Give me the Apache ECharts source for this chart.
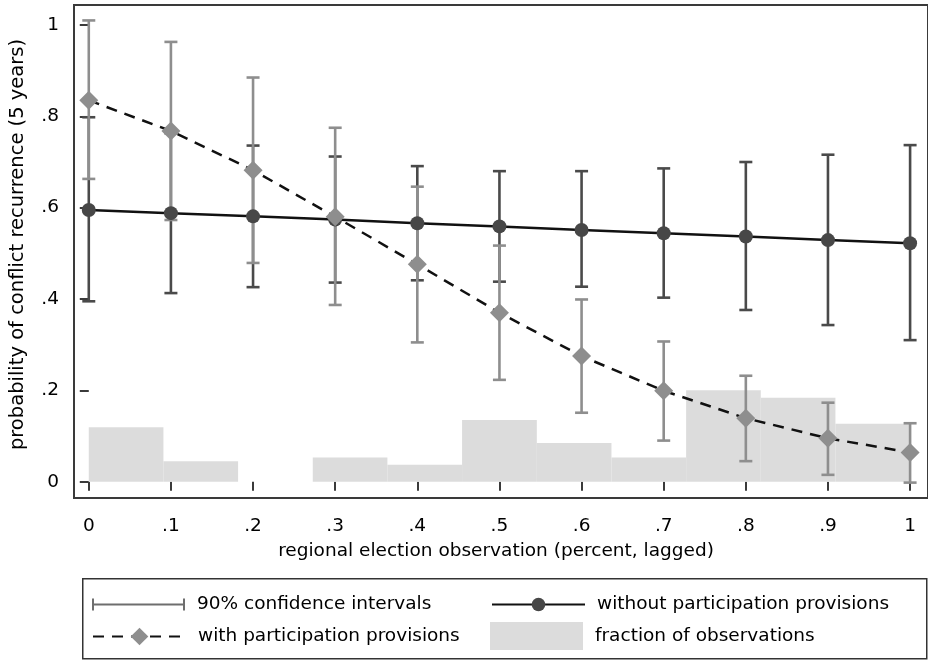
<!DOCTYPE html>
<html>
<head>
<meta charset="utf-8">
<script src="https://cdn.jsdelivr.net/npm/echarts@6/dist/echarts.min.js"></script>
<style>
html,body{margin:0;padding:0;background:#fff;}
#c{width:928px;height:660px;}
</style>
</head>
<body>
<div id="c"></div>
<script>
// ---- data ----
const xVals = [0, 0.1, 0.2, 0.3, 0.4, 0.5, 0.6, 0.7, 0.8, 0.9, 1.0];
const withoutProv = [0.595, 0.588, 0.581, 0.574, 0.566, 0.559, 0.551, 0.544, 0.537, 0.529, 0.522];
const withoutLo = [0.395, 0.413, 0.426, 0.436, 0.441, 0.438, 0.427, 0.403, 0.376, 0.343, 0.310];
const withoutHi = [0.798, 0.763, 0.736, 0.712, 0.691, 0.680, 0.680, 0.686, 0.700, 0.716, 0.737];
const withProv = [0.835, 0.768, 0.682, 0.580, 0.476, 0.370, 0.275, 0.199, 0.139, 0.095, 0.064];
const withLo = [0.663, 0.573, 0.479, 0.387, 0.305, 0.223, 0.151, 0.090, 0.045, 0.015, -0.002];
const withHi = [1.010, 0.963, 0.885, 0.775, 0.646, 0.517, 0.399, 0.307, 0.232, 0.173, 0.128];
const binEdges = [0, 0.0909, 0.1818, 0.2727, 0.3636, 0.4545, 0.5455, 0.6364, 0.7273, 0.8182, 0.9091, 1.0];
const binFraction = [0.119, 0.045, 0, 0.053, 0.037, 0.135, 0.085, 0.053, 0.200, 0.184, 0.127];
const xTicks = [0, 0.1, 0.2, 0.3, 0.4, 0.5, 0.6, 0.7, 0.8, 0.9, 1];
const xTickLabels = ['0', '.1', '.2', '.3', '.4', '.5', '.6', '.7', '.8', '.9', '1'];
const yTicks = [0, 0.2, 0.4, 0.6, 0.8, 1];
const yTickLabels = ['0', '.2', '.4', '.6', '.8', '1'];
const names = {
  ci: '90% confidence intervals',
  without: 'without participation provisions',
  withp: 'with participation provisions',
  frac: 'fraction of observations'
};

// ---- build ----
const FONT = 'DejaVu Sans';
const FS = 18.5;
const histData = binFraction.map((f, i) => [binEdges[i], binEdges[i + 1], f]);
const ciWithout = xVals.map((x, i) => [x, withoutLo[i], withoutHi[i]]);
const ciWith = xVals.map((x, i) => [x, withLo[i], withHi[i]]);

function errRender(color) {
  return function (params, api) {
    const x = api.value(0), lo = api.value(1), hi = api.value(2);
    const a = api.coord([x, lo]), b = api.coord([x, hi]);
    const w = 6.5;
    const st = { stroke: color, lineWidth: 2.6 };
    return {
      type: 'group',
      children: [
        { type: 'line', shape: { x1: a[0], y1: a[1], x2: b[0], y2: b[1] }, style: st },
        { type: 'line', shape: { x1: a[0] - w, y1: a[1], x2: a[0] + w, y2: a[1] }, style: st },
        { type: 'line', shape: { x1: b[0] - w, y1: b[1], x2: b[0] + w, y2: b[1] }, style: st }
      ]
    };
  };
}

const ciIcon = 'path://M0,1 L2,1 L2,6 L91,6 L91,1 L93,1 L93,13 L91,13 L91,8 L2,8 L2,13 L0,13 Z';

function lab(v, ticks, labels) {
  const i = ticks.findIndex(t => Math.abs(t - v) < 1e-9);
  return i >= 0 ? labels[i] : '';
}

const chart = echarts.init(document.getElementById('c'), null, { renderer: 'canvas' });
const legendText = { fontFamily: FONT, fontSize: FS, color: '#000', padding: [0, 0, 0, 7] };
chart.setOption({
  backgroundColor: '#fff',
  animation: false,
  textStyle: { fontFamily: FONT },
  grid: {
    left: 73, top: 5, right: -6, bottom: 162,
    show: true, borderColor: '#3a3a3a', borderWidth: 2, backgroundColor: '#fff'
  },
  xAxis: {
    type: 'value', min: -0.018, max: 1.0218,
    name: 'regional election observation (percent, lagged)',
    nameLocation: 'middle', nameGap: 44,
    nameTextStyle: { fontFamily: FONT, fontSize: FS, color: '#000', padding: [0, 10, 0, 0] },
    axisLine: { show: false },
    axisTick: { show: true, customValues: xTicks, length: 9, lineStyle: { color: '#3a3a3a', width: 2 } },
    axisLabel: { customValues: xTicks, margin: 19, fontFamily: FONT, fontSize: FS, color: '#000',
      formatter: v => lab(v, xTicks, xTickLabels) },
    splitLine: { show: false }
  },
  yAxis: {
    type: 'value', min: -0.0357, max: 1.0438,
    name: 'probability of conflict recurrence (5 years)',
    nameLocation: 'middle', nameGap: 46, nameRotate: 90,
    nameTextStyle: { fontFamily: FONT, fontSize: 19.5, color: '#000', padding: [0, 0, 0, 14] },
    axisLine: { show: false },
    axisTick: { show: true, customValues: yTicks, length: 9, lineStyle: { color: '#3a3a3a', width: 2 } },
    axisLabel: { customValues: yTicks, margin: 15, fontFamily: FONT, fontSize: FS, color: '#000',
      formatter: v => lab(v, yTicks, yTickLabels) },
    splitLine: { show: false }
  },
  legend: [
    { data: [{ name: names.ci, icon: ciIcon }], left: 87, top: 590, itemWidth: 93, itemHeight: 14,
      textStyle: legendText, selectedMode: false, itemStyle: { color: '#6e6e6e' } },
    { data: [names.withp], left: 87, top: 622, itemWidth: 93, itemHeight: 22,
      textStyle: legendText, selectedMode: false },
    { data: [names.without], left: 486, top: 590, itemWidth: 93, itemHeight: 17,
      textStyle: legendText, selectedMode: false },
    { data: [{ name: names.frac, icon: 'rect' }], left: 485, top: 617, itemWidth: 93, itemHeight: 28,
      textStyle: legendText, selectedMode: false }
  ],
  graphic: [
    { type: 'rect', left: 82, top: 578, shape: { width: 844, height: 80 },
      style: { fill: '#fff', stroke: '#333', lineWidth: 1.5 }, z: -1 }
  ],
  series: [
    {
      name: names.frac, type: 'custom', data: histData, encode: { x: [0, 1], y: 2 },
      itemStyle: { color: '#dcdcdc' }, z: 1,
      renderItem: function (params, api) {
        const p0 = api.coord([api.value(0), api.value(2)]);
        const p1 = api.coord([api.value(1), 0]);
        return { type: 'rect', shape: { x: p0[0], y: p0[1], width: p1[0] - p0[0], height: p1[1] - p0[1] },
          style: { fill: '#dcdcdc' } };
      }
    },
    {
      name: names.ci, type: 'custom', data: ciWithout, encode: { x: 0, y: [1, 2] },
      itemStyle: { color: '#6e6e6e' }, z: 2, renderItem: errRender('#4a4a4a')
    },
    {
      name: names.ci, type: 'custom', data: ciWith, encode: { x: 0, y: [1, 2] },
      itemStyle: { color: '#6e6e6e' }, z: 3, renderItem: errRender('#8e8e8e')
    },
    {
      name: names.without, type: 'line', data: xVals.map((x, i) => [x, withoutProv[i]]),
      symbol: 'circle', symbolSize: 14, z: 4,
      lineStyle: { color: '#111', width: 2.5 },
      itemStyle: { color: '#474747' }
    },
    {
      name: names.withp, type: 'line', data: xVals.map((x, i) => [x, withProv[i]]),
      symbol: 'diamond', symbolSize: 19, z: 5,
      lineStyle: { color: '#111', width: 2.5, type: [11, 8] },
      itemStyle: { color: '#8e8e8e' }
    }
  ]
});
</script>
</body>
</html>
